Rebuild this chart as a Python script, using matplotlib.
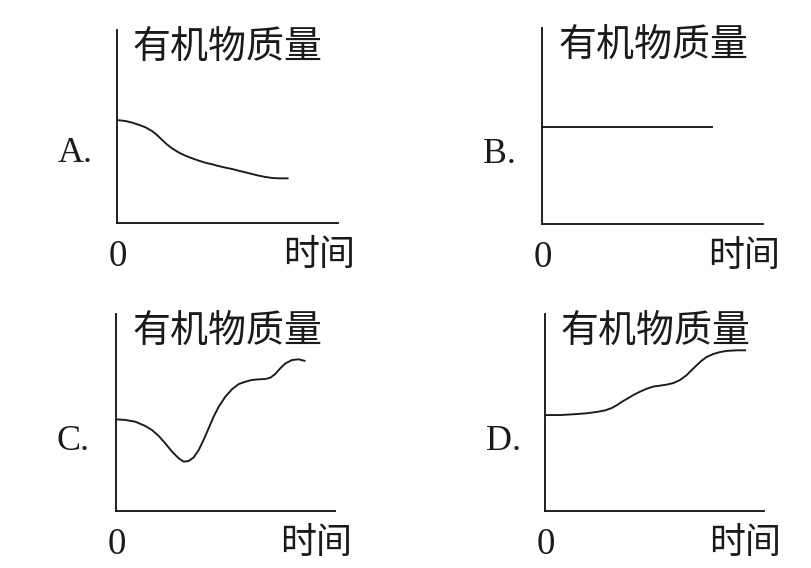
import matplotlib
matplotlib.use("Agg")
import matplotlib.pyplot as plt

# ---- data (time units, mass units) ----
y_label = "有机物质量"
x_label = "时间"
origin_label = "0"
panel_letters = ["A.", "B.", "C.", "D."]

a_time = [0.0, 0.38, 0.68, 0.98, 1.29, 1.59, 1.82, 2.05, 2.27, 2.50, 2.80, 3.11, 3.41, 3.71,
          4.02, 4.32, 4.62, 4.92, 5.23, 5.53, 5.83, 6.14, 6.44, 6.74, 7.05, 7.35, 7.80]
a_mass = [5.28, 5.23, 5.15, 5.04, 4.91, 4.72, 4.51, 4.26, 4.03, 3.83, 3.62, 3.45, 3.32, 3.20,
          3.09, 3.01, 2.92, 2.84, 2.77, 2.68, 2.60, 2.51, 2.43, 2.36, 2.31, 2.29, 2.29]

b_time = [0.0, 7.77]
b_mass = [4.97, 4.97]

c_time = [0.0, 0.42, 0.88, 1.33, 1.64, 1.94, 2.24, 2.55, 2.85, 3.08, 3.30, 3.53, 3.76, 3.98,
          4.21, 4.44, 4.67, 4.97, 5.27, 5.58, 5.88, 6.18, 6.48, 6.79, 7.02, 7.24, 7.47, 7.70,
          8.00, 8.30, 8.61]
c_mass = [4.70, 4.67, 4.58, 4.36, 4.15, 3.85, 3.47, 3.04, 2.70, 2.53, 2.56, 2.75, 3.13, 3.64,
          4.24, 4.84, 5.35, 5.86, 6.24, 6.51, 6.63, 6.72, 6.75, 6.77, 6.84, 7.03, 7.32, 7.57,
          7.74, 7.78, 7.69]

d_time = [0.0, 0.68, 1.29, 1.89, 2.35, 2.73, 3.03, 3.26, 3.48, 3.71, 4.02, 4.32, 4.62, 4.92,
          5.23, 5.53, 5.83, 6.14, 6.44, 6.67, 6.89, 7.12, 7.35, 7.65, 7.95, 8.26, 8.71, 9.14]
d_mass = [4.92, 4.92, 4.96, 5.01, 5.08, 5.16, 5.28, 5.42, 5.59, 5.74, 5.95, 6.12, 6.27, 6.38,
          6.43, 6.48, 6.56, 6.72, 6.97, 7.23, 7.47, 7.71, 7.90, 8.05, 8.15, 8.21, 8.24, 8.24]

series = [(a_time, a_mass), (b_time, b_mass), (c_time, c_mass), (d_time, d_mass)]

# ---- layout ----
W, H = 811, 568
DPI = 72
fig = plt.figure(figsize=(W / DPI, H / DPI), dpi=DPI, facecolor="white")

# (left, top, right, bottom) in pixels
frames = [(117, 30, 338, 223), (542, 28, 763, 224), (116, 314, 335, 511), (545, 314, 764, 511)]
PX_X, PX_Y = 22.0, 19.5
INK = "#1a1a1a"
CJK = ["Noto Sans CJK SC", "DejaVu Sans"]
SERIF = ["Liberation Serif", "DejaVu Serif"]

for (l, t, r, b), (tx, my), letter in zip(frames, series, panel_letters):
    w, h = r - l, b - t
    ax = fig.add_axes([l / W, 1 - b / H, w / W, h / H])
    ax.set_xlim(0, w / PX_X)
    ax.set_ylim(0, h / PX_Y)
    for s in ("top", "right"):
        ax.spines[s].set_visible(False)
    for s in ("left", "bottom"):
        ax.spines[s].set_linewidth(1.9)
        ax.spines[s].set_color(INK)
    ax.set_xticks([])
    ax.set_yticks([])
    ax.patch.set_alpha(0)
    ax.plot(tx, my, color=INK, lw=1.9, solid_capstyle="butt",
            solid_joinstyle="round", clip_on=False)

    kw = dict(xycoords="axes fraction", textcoords="offset points", color=INK, annotation_clip=False)
    ax.annotate(y_label, xy=(0, 1), xytext=(16, -18), ha="left", va="center",
                fontsize=38, family=CJK, **kw)
    ax.annotate(letter, xy=(0, 0), xytext=(-59, 61), ha="left", va="baseline",
                fontsize=36, family=SERIF, **kw)
    ax.annotate(origin_label, xy=(0, 0), xytext=(1, -43), ha="center", va="baseline",
                fontsize=37, family=SERIF, **kw)
    ax.annotate(x_label, xy=(1, 0), xytext=(17, -32), ha="right", va="center",
                fontsize=36, family=CJK, **kw)

fig.savefig("out.png", dpi=DPI, facecolor="white")
